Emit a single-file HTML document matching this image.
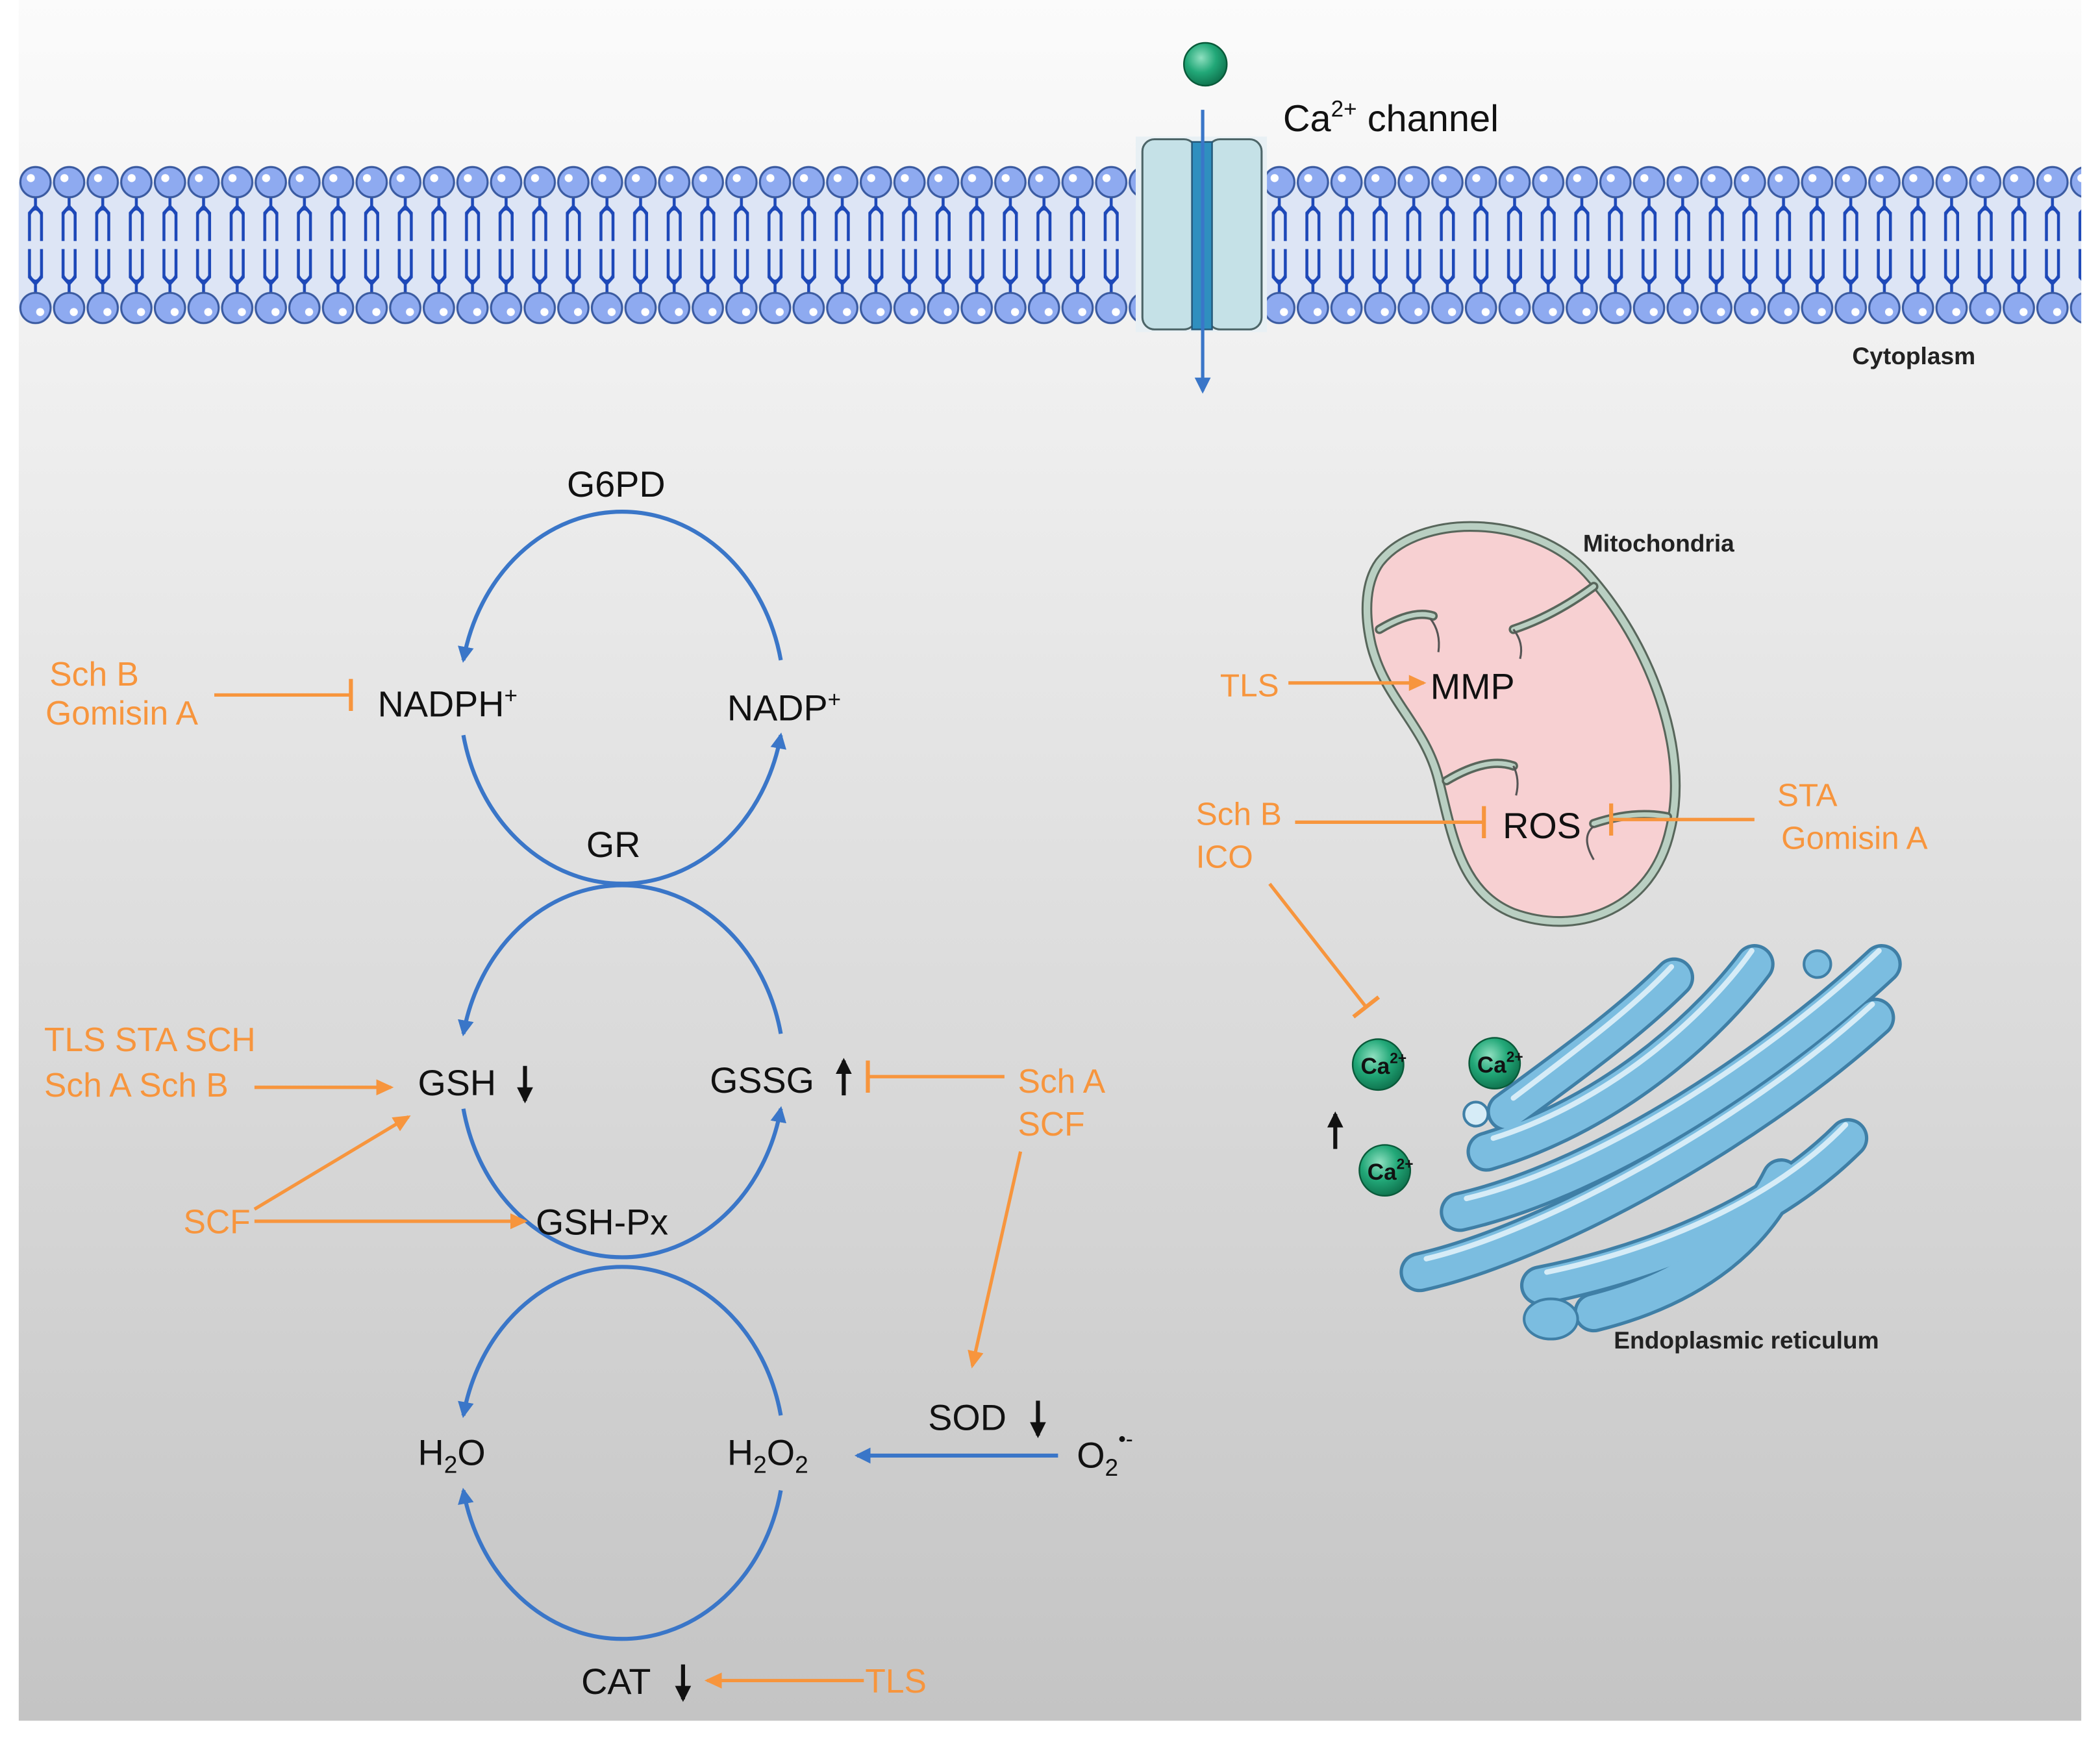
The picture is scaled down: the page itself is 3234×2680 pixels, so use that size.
<!DOCTYPE html>
<html><head><meta charset="utf-8"><style>
html,body{margin:0;padding:0;background:#fff}
svg{display:block}
text{font-family:"Liberation Sans",sans-serif}
.n{font-family:"Liberation Sans Narrow","Liberation Sans",sans-serif}
</style></head><body>
<svg width="3234" height="2680" viewBox="0 0 1568 1299.4" xmlns="http://www.w3.org/2000/svg">
<defs>
<linearGradient id="bg" x1="0" y1="0" x2="0" y2="1">
<stop offset="0" stop-color="#fbfbfb"/><stop offset="0.25" stop-color="#eeeeee"/><stop offset="1" stop-color="#c4c4c4"/>
</linearGradient>
<radialGradient id="ca" cx="0.4" cy="0.35" r="0.7">
<stop offset="0" stop-color="#8fe0c0"/><stop offset="0.5" stop-color="#22a878"/><stop offset="1" stop-color="#0d6e4a"/>
</radialGradient>
<pattern id="lip" x="14" y="0" width="25.1" height="300" patternUnits="userSpaceOnUse">
<g stroke="#1d48b8" stroke-width="2.2" fill="none">
<path d="M12.5,146 V154 M12.5,154 L8,159 V180 M12.5,154 L17,159 V180"/>
<path d="M12.5,220 V212 M12.5,212 L8,207 V186 M12.5,212 L17,207 V186"/>
<path d="M8,160 Q12.5,152 17,160" />
<path d="M8,206 Q12.5,214 17,206" />
</g>
<circle cx="12.5" cy="136" r="11.3" fill="#8eaaf0" stroke="#3a5aa0" stroke-width="1.5"/>
<circle cx="9" cy="133" r="3" fill="#fff"/>
<circle cx="12.5" cy="230" r="11.3" fill="#8eaaf0" stroke="#3a5aa0" stroke-width="1.5"/>
<circle cx="16" cy="233" r="3" fill="#fff"/>
</pattern>
<marker id="ab2" markerWidth="14" markerHeight="14" refX="10" refY="7" orient="auto" markerUnits="userSpaceOnUse"><path d="M0,1 L12,7 L0,13 Z" fill="#3a76c8"/></marker>
<marker id="ak" markerWidth="14" markerHeight="14" refX="10" refY="7" orient="auto" markerUnits="userSpaceOnUse"><path d="M0,1 L12,7 L0,13 Z" fill="#111"/></marker>
<marker id="ao" markerWidth="14" markerHeight="14" refX="11" refY="7" orient="auto" markerUnits="userSpaceOnUse"><path d="M0,1 L13,7 L0,13 Z" fill="#f7953d"/></marker>
<marker id="to" markerWidth="4" markerHeight="24" refX="2" refY="12" orient="auto" markerUnits="userSpaceOnUse"><rect x="0.5" y="0" width="3" height="24" fill="#f7953d"/></marker>
</defs>
<rect x="0" y="0" width="1568" height="1300" fill="#fff"/>
<rect x="14" y="0" width="1540" height="1285" fill="url(#bg)"/>
<!-- membrane -->
<rect x="14" y="136" width="1540" height="94" fill="#dde5f5"/>
<rect x="14" y="118" width="1540" height="130" fill="url(#lip)"/>
<!-- channel -->
<rect x="848" y="102" width="98" height="146" fill="#e8f0f4"/>
<rect x="853" y="104" width="40" height="142" rx="9" fill="#c5e1e7" stroke="#4d6568" stroke-width="1.5"/>
<rect x="902" y="104" width="40" height="142" rx="9" fill="#c5e1e7" stroke="#4d6568" stroke-width="1.5"/>
<rect x="890" y="106" width="15" height="140" fill="#2f8fbf" stroke="#24587a" stroke-width="1.2"/>
<line x1="898" y1="82" x2="898" y2="292" stroke="#3a76c8" stroke-width="2.5" marker-end="url(#ab2)"/>
<circle cx="900" cy="48" r="16" fill="url(#ca)" stroke="#0a5a3a" stroke-width="1.2"/>
<text x="958" y="98" font-size="28" fill="#111">Ca<tspan font-size="17" dy="-11">2+</tspan><tspan dy="11"> channel</tspan></text>
<text x="1383" y="272" font-size="18" font-weight="bold" fill="#222">Cytoplasm</text>

<!-- cycles -->
<g fill="none" stroke="#3a76c8" stroke-width="3">
<path d="M583,493 A121,139 0 0 0 346,493" marker-end="url(#ab2)"/>
<path d="M346,549 A121,139 0 0 0 583,549" marker-end="url(#ab2)"/>
<path d="M583,772 A121,139 0 0 0 346,772" marker-end="url(#ab2)"/>
<path d="M346,828 A121,139 0 0 0 583,828" marker-end="url(#ab2)"/>
<path d="M583,1057 A121,139 0 0 0 346,1057" marker-end="url(#ab2)"/>
<path d="M583,1113 A121,139 0 0 1 346,1113" marker-end="url(#ab2)"/>
<line x1="790" y1="1087" x2="640" y2="1087" marker-end="url(#ab2)"/>
</g>
<g font-size="27" fill="#111">
<text x="460" y="371" text-anchor="middle">G6PD</text>
<text x="282" y="535">NADPH<tspan font-size="17" dy="-10">+</tspan></text>
<text x="543" y="538">NADP<tspan font-size="17" dy="-10">+</tspan></text>
<text x="458" y="640" text-anchor="middle">GR</text>
<text x="312" y="818">GSH</text>
<text x="530" y="816">GSSG</text>
<text x="400" y="922">GSH-Px</text>
<text x="312" y="1094">H<tspan font-size="18" dy="6">2</tspan><tspan dy="-6">O</tspan></text>
<text x="543" y="1094">H<tspan font-size="18" dy="6">2</tspan><tspan dy="-6">O</tspan><tspan font-size="18" dy="6">2</tspan></text>
<text x="693" y="1068">SOD</text>
<text x="804" y="1096">O<tspan font-size="18" dy="6">2</tspan><tspan font-size="16" dy="-22">•-</tspan></text>
<text x="434" y="1265">CAT</text>
</g>
<g stroke="#111" stroke-width="3">
<line x1="392" y1="796" x2="392" y2="822" marker-end="url(#ak)"/>
<line x1="630" y1="818" x2="630" y2="792" marker-end="url(#ak)"/>
<line x1="775" y1="1046" x2="775" y2="1072" marker-end="url(#ak)"/>
<line x1="510" y1="1243" x2="510" y2="1269" marker-end="url(#ak)"/>
<line x1="1158" y1="498" x2="1158" y2="524" marker-end="url(#ak)"/>
<line x1="1193" y1="627" x2="1193" y2="601" marker-end="url(#ak)"/>
<line x1="997" y1="858" x2="997" y2="832" marker-end="url(#ak)"/>
</g>

<!-- mitochondria -->
<text x="1182" y="412" font-size="18" font-weight="bold" fill="#222">Mitochondria</text>
<path d="M1030,420 C1060,382 1145,384 1185,428 C1232,480 1262,560 1247,620 C1234,678 1180,700 1130,682 C1090,666 1084,622 1074,582 C1064,542 1034,522 1024,482 C1018,456 1020,434 1030,420 Z" fill="#f7d0d2" stroke="#58665b" stroke-width="8"/>
<path d="M1030,420 C1060,382 1145,384 1185,428 C1232,480 1262,560 1247,620 C1234,678 1180,700 1130,682 C1090,666 1084,622 1074,582 C1064,542 1034,522 1024,482 C1018,456 1020,434 1030,420 Z" fill="none" stroke="#b9cfc2" stroke-width="5"/>
<g fill="none" stroke="#58665b" stroke-width="7" stroke-linecap="round"><path d="M1030,470 Q1055,455 1070,460"/><path d="M1190,438 Q1160,460 1130,470"/><path d="M1080,583 Q1110,565 1130,572"/><path d="M1245,610 Q1220,605 1190,615"/></g>
<g fill="none" stroke="#b9cfc2" stroke-width="3.5" stroke-linecap="round"><path d="M1030,470 Q1055,455 1070,460"/><path d="M1190,438 Q1160,460 1130,470"/><path d="M1080,583 Q1110,565 1130,572"/><path d="M1245,610 Q1220,605 1190,615"/></g>
<g fill="none" stroke="#555" stroke-width="1.5"><path d="M1068,462 q8,10 6,25"/><path d="M1130,470 q8,10 5,22"/><path d="M1130,572 q5,10 2,22"/><path d="M1190,617 q-10,8 0,25"/></g>
<text x="1068" y="522" font-size="27" fill="#111">MMP</text>
<text x="1122" y="626" font-size="27" fill="#111">ROS</text>

<!-- ER -->
<g fill="none" stroke-linecap="round">
<g stroke="#3f7fa6" stroke-width="30">
<path d="M1060,950 C1150,930 1300,850 1400,760"/>
<path d="M1090,905 C1200,880 1330,790 1405,720"/>
<path d="M1110,860 C1210,830 1280,760 1310,720"/>
<path d="M1150,960 C1250,940 1330,900 1380,850"/>
<path d="M1190,980 C1270,960 1310,920 1330,880"/>
<path d="M1125,830 C1180,790 1220,760 1250,730"/>
</g>
<g stroke="#7bbde0" stroke-width="25">
<path d="M1060,950 C1150,930 1300,850 1400,760"/>
<path d="M1090,905 C1200,880 1330,790 1405,720"/>
<path d="M1110,860 C1210,830 1280,760 1310,720"/>
<path d="M1150,960 C1250,940 1330,900 1380,850"/>
<path d="M1190,980 C1270,960 1310,920 1330,880"/>
<path d="M1125,830 C1180,790 1220,760 1250,730"/>
</g>
<g stroke="#d6ecf7" stroke-width="4">
<path d="M1065,940 C1150,920 1300,840 1398,750"/>
<path d="M1095,895 C1200,870 1330,780 1403,710"/>
<path d="M1115,850 C1210,820 1280,750 1308,710"/>
<path d="M1155,950 C1250,930 1330,890 1378,840"/>
<path d="M1130,820 C1180,782 1220,752 1248,722"/>
</g>
</g>
<circle cx="1357" cy="720" r="10" fill="#7bbde0" stroke="#3f7fa6" stroke-width="2"/>
<circle cx="1102" cy="832" r="9" fill="#d6ecf7" stroke="#3f7fa6" stroke-width="2"/>
<ellipse cx="1158" cy="985" rx="20" ry="15" fill="#7bbde0" stroke="#3f7fa6" stroke-width="2"/>
<text x="1205" y="1007" font-size="18" font-weight="bold" fill="#222">Endoplasmic reticulum</text>

<!-- Ca ions -->
<g font-size="17" fill="#111" font-weight="bold">
<circle cx="1029" cy="795" r="19" fill="url(#ca)" stroke="#0a5a3a" stroke-width="1.2"/>
<text x="1016" y="802">Ca<tspan font-size="11" dy="-8">2+</tspan></text>
<circle cx="1116" cy="794" r="19" fill="url(#ca)" stroke="#0a5a3a" stroke-width="1.2"/>
<text x="1103" y="801">Ca<tspan font-size="11" dy="-8">2+</tspan></text>
<circle cx="1034" cy="874" r="19" fill="url(#ca)" stroke="#0a5a3a" stroke-width="1.2"/>
<text x="1021" y="881">Ca<tspan font-size="11" dy="-8">2+</tspan></text>
</g>

<!-- orange -->
<g stroke="#f7953d" stroke-width="2.5" fill="none">
<line x1="160" y1="519" x2="262" y2="519" marker-end="url(#to)"/>
<line x1="190" y1="812" x2="292" y2="812" marker-end="url(#ao)"/>
<line x1="190" y1="903" x2="305" y2="834" marker-end="url(#ao)"/>
<line x1="190" y1="912" x2="392" y2="912" marker-end="url(#ao)"/>
<line x1="750" y1="804" x2="648" y2="804" marker-end="url(#to)"/>
<line x1="762" y1="860" x2="726" y2="1020" marker-end="url(#ao)"/>
<line x1="645" y1="1255" x2="528" y2="1255" marker-end="url(#ao)"/>
<line x1="962" y1="510" x2="1063" y2="510" marker-end="url(#ao)"/>
<line x1="967" y1="614" x2="1108" y2="614" marker-end="url(#to)"/>
<line x1="1310" y1="612" x2="1203" y2="612" marker-end="url(#to)"/>
<line x1="948" y1="660" x2="1020" y2="752" marker-end="url(#to)"/>
</g>
<g font-size="25" fill="#f7953d">
<text x="37" y="512">Sch B</text>
<text x="34" y="541">Gomisin A</text>
<text x="33" y="785">TLS STA  SCH</text>
<text x="33" y="819">Sch A Sch B</text>
<text x="137" y="921">SCF</text>
<text x="760" y="816">Sch A</text>
<text x="760" y="848">SCF</text>
<text x="646" y="1264">TLS</text>
</g>
<g font-size="24" fill="#f7953d">
<text x="911" y="520">TLS</text>
<text x="893" y="616">Sch B</text>
<text x="893" y="648">ICO</text>
<text x="1327" y="602">STA</text>
<text x="1330" y="634">Gomisin A</text>
</g>
</svg>
</body></html>
